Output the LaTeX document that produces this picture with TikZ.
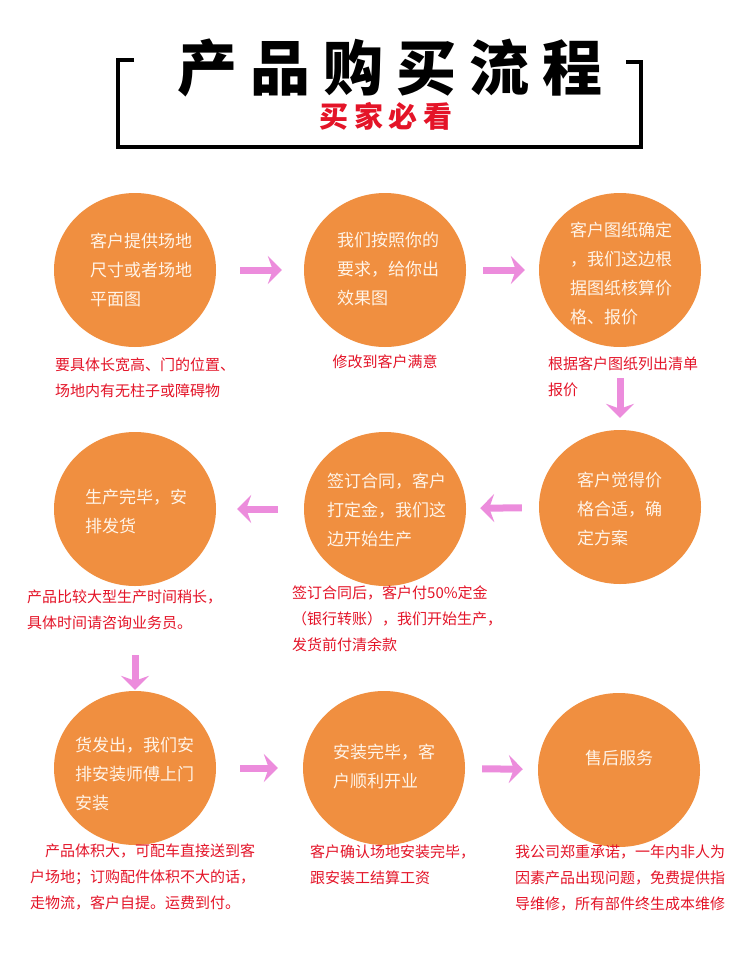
\documentclass[tikz,border=0pt]{standalone}
\usepackage{fontspec}
\setmainfont{Noto Sans CJK SC}
\usetikzlibrary{arrows.meta,shapes.geometric}
\definecolor{orng}{RGB}{240,143,64}
\definecolor{pinkarr}{RGB}{236,140,220}
\definecolor{capred}{RGB}{228,20,40}
\definecolor{cream}{RGB}{255,244,232}
\begin{document}
\begin{tikzpicture}[x=1pt,y=-1pt,
  circ/.style={ellipse, fill=orng, minimum width=162pt, minimum height=154pt, inner sep=0pt},
  ctext/.style={text=cream, align=left, anchor=west, inner sep=0pt, font=\fontsize{17}{29}\selectfont},
  captxt/.style={text=capred, align=left, anchor=west, inner sep=0pt, font=\fontsize{15}{26}\selectfont},
  arr/.style={draw=pinkarr, line width=7pt, -{Stealth[length=14pt,width=28pt,inset=5pt]}},
  framepath/.style={line width=4pt, draw=black}]
\fill[white] (0,0) rectangle (750,960);
\useasboundingbox (0,0) rectangle (750,960);

% title
\draw[framepath] (134,60) -- (118,60) -- (118,147) -- (641,147) -- (641,62) -- (626,62);
\node[inner sep=0pt, font=\fontsize{60}{60}\selectfont\bfseries\addfontfeature{LetterSpace=22}] (title) at (390,68) {产品购买流程};
\node[inner sep=0pt, text=capred, font=\fontsize{29}{29}\selectfont\bfseries\addfontfeature{LetterSpace=20}] (sub) at (386,116) {买家必看};

% circles
\node[circ] (c1) at (135,270) {};
\node[circ] (c2) at (385,270) {};
\node[circ] (c3) at (620,270) {};
\node[circ] (c4) at (135,509) {};
\node[circ] (c5) at (385,509) {};
\node[circ] (c6) at (620,507) {};
\node[circ] (c7) at (135,768) {};
\node[circ] (c8) at (384,768) {};
\node[circ] (c9) at (619,770) {};

% circle texts
\node[ctext] (t1) at (90,270) {客户提供场地\\尺寸或者场地\\平面图};
\node[ctext] (t2) at (337,269) {我们按照你的\\要求，给你出\\效果图};
\node[ctext] (t3) at (570,274) {客户图纸确定\\，我们这边根\\据图纸核算价\\格、报价};
\node[ctext] (t4) at (85,511) {生产完毕，安\\排发货};
\node[ctext] (t5) at (327,510) {签订合同，客户\\打定金，我们这\\边开始生产};
\node[ctext] (t6) at (577,509) {客户觉得价\\格合适，确\\定方案};
\node[ctext] (t7) at (75,774) {货发出，我们安\\排安装师傅上门\\安装};
\node[ctext] (t8) at (333,767) {安装完毕，客\\户顺利开业};
\node[ctext, anchor=center] (t9) at (619,758) {售后服务};

% captions
\node[captxt] (k1) at (55,377.5) {要具体长宽高、门的位置、\\场地内有无柱子或障碍物};
\node[captxt, anchor=center] (k2) at (385,362) {修改到客户满意};
\node[captxt] (k3) at (548,376.5) {根据客户图纸列出清单\\报价};
\node[captxt] (k4) at (27,609.5) {产品比较大型生产时间稍长，\\具体时间请咨询业务员。};
\node[captxt] (k5) at (292,619) {签订合同后，客户付50\%定金\\（银行转账），我们开始生产，\\发货前付清余款};
\node[captxt] (k6) at (30,877) {\hspace*{15pt}产品体积大，可配车直接送到客\\户场地；订购配件体积不大的话，\\走物流，客户自提。运费到付。};
\node[captxt] (k7) at (310,865) {客户确认场地安装完毕，\\跟安装工结算工资};
\node[captxt] (k8) at (515,878) {我公司郑重承诺，一年内非人为\\因素产品出现问题，免费提供指\\导维修，所有部件终生成本维修};

% arrows
\draw[arr, shorten <=24pt, shorten >=22pt] (c1) -- (c2);
\draw[arr, shorten <=17pt, shorten >=14pt] (c2) -- (c3);
\draw[arr, shorten <=31pt, shorten >=12pt] (c3) -- (c6);
\draw[arr, shorten <=17pt, shorten >=14pt] (c6) -- (c5);
\draw[arr, shorten <=26pt, shorten >=21pt] (c5) -- (c4);
\draw[arr, shorten <=69pt, shorten >=1pt] (c4) -- (c7);
\draw[arr, shorten <=24pt, shorten >=25pt] (c7) -- (c8);
\draw[arr, shorten <=17pt, shorten >=15pt] (c8) -- (c9);
\end{tikzpicture}
\end{document}
